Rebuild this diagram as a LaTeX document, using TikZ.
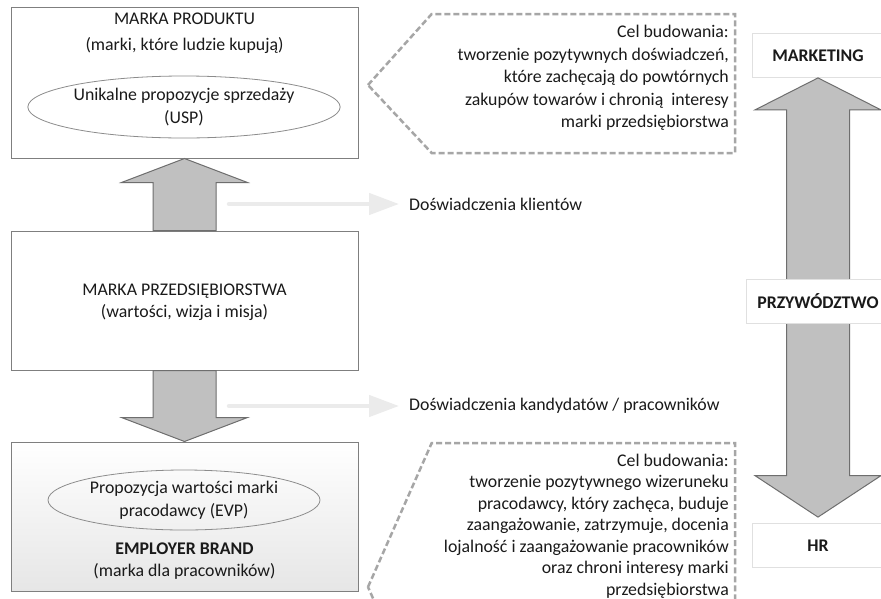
\documentclass[tikz,border=0pt]{standalone}
\usepackage{fontspec}
\setmainfont{Carlito}
\usetikzlibrary{arrows.meta,calc,shapes.geometric}

\definecolor{ink}{HTML}{1A1A1A}
\definecolor{boxline}{HTML}{7F7F7F}
\definecolor{ovalline}{HTML}{8C8C8C}
\definecolor{arrowfill}{HTML}{C0C0C0}
\definecolor{arrowline}{HTML}{6E6E6E}
\definecolor{flowgray}{HTML}{EBEBEB}
\definecolor{dashgray}{HTML}{A6A6A6}
\definecolor{rolegray}{HTML}{E0E0E0}
\definecolor{shadebot}{HTML}{E6E6E6}

\begin{document}
\begin{tikzpicture}[x=1pt,y=-1pt,
  txt/.style={font=\fontsize{17.8}{22.5}\selectfont, text=ink, inner sep=0pt, align=center},
  boldtxt/.style={txt, font=\fontsize{17.8}{22.5}\selectfont\bfseries},
  brandbox/.style={draw=boxline, line width=1pt, inner sep=0pt, minimum width=347pt},
  valueoval/.style={txt, ellipse, draw=ovalline, line width=0.8pt, minimum width=272pt, minimum height=60pt},
  blockarrow/.style={fill=arrowfill, draw=arrowline, line width=1pt, line join=miter},
  flowarrow/.style={draw=flowgray, line width=4.5pt, line cap=round, -{Triangle[length=30pt,width=21pt]}, shorten >=10pt},
  goalframe/.style={draw=dashgray, line width=2.5pt, dash pattern=on 6pt off 3pt},
  rolebox/.style={boldtxt, draw=rolegray, fill=white, line width=0.8pt, minimum height=44pt},
]
\useasboundingbox (0,0) rectangle (881,598);
\clip (0,0) rectangle (881,598);
\fill[white] (0,0) rectangle (881,598);

% brand boxes on the left
\node[brandbox, minimum height=151pt] (prod) at (184.5,82.5) {};
\node[brandbox, minimum height=139pt] (mid) at (184.5,300.5) {};
\node[brandbox, minimum height=149pt, top color=white, bottom color=shadebot] (emp) at (184.5,516.5) {};

% texts of the brand boxes
\node[txt, font=\fontsize{17.8}{26}\selectfont] (prodtitle) at (184.5,33) {MARKA PRODUKTU\\(marki, które ludzie kupują)};
\node[valueoval, minimum height=62pt] (usp) at (184,107) {Unikalne propozycje sprzedaży\\(USP)};
\node[txt] (midtitle) at (184.5,302) {MARKA PRZEDSIĘBIORSTWA\\(wartości, wizja i misja)};
\node[valueoval] (evp) at (184,500) {Propozycja wartości marki\\pracodawcy (EVP)};
\node[txt] (emptitle) at (184.5,561) {\textbf{EMPLOYER BRAND}\\(marka dla pracowników)};

% block arrows between the brand boxes
\draw[blockarrow] (prod.south) -- ($(prod.south)+(63,24)$) -- ($(prod.south)+(31.5,24)$)
  -- ($(mid.north)+(31.5,0)$) -- ($(mid.north)+(-31.5,0)$)
  -- ($(prod.south)+(-31.5,24)$) -- ($(prod.south)+(-63,24)$) -- cycle;
\draw[blockarrow] (emp.north) -- ($(emp.north)+(63,-24)$) -- ($(emp.north)+(31.5,-24)$)
  -- ($(mid.south)+(31.5,0)$) -- ($(mid.south)+(-31.5,0)$)
  -- ($(emp.north)+(-31.5,-24)$) -- ($(emp.north)+(-63,-24)$) -- cycle;

% experience arrows
\coordinate (kstart) at (229,204);
\node[txt, anchor=west] (klienci) at (409,204) {Doświadczenia klientów};
\draw[flowarrow] (kstart) -- (klienci.west);
\coordinate (pstart) at (229,406);
\node[txt, anchor=west] (pracownicy) at (409,406) {Doświadczenia kandydatów / pracowników};
\draw[flowarrow] (pstart) -- (pracownicy.west);

% goal callouts
\draw[goalframe] (368,85) -- (431.7,14) -- (735,14) -- (735,153) -- (431.7,153) -- cycle;
\node[txt, align=right, anchor=east] (goaltop) at (729,78)
  {Cel budowania:\\tworzenie pozytywnych doświadczeń,\\które zachęcają do powtórnych\\zakupów towarów i chronią\ \ interesy\\marki przedsiębiorstwa};
\draw[goalframe] (368,587) -- (431.7,443) -- (735,443) -- (735,731) -- (431.7,731) -- cycle;
\node[txt, align=right, anchor=east, font=\fontsize{17.8}{21.5}\selectfont] (goalbot) at (729,526)
  {Cel budowania:\\tworzenie pozytywnego wizeruneku\\pracodawcy, który zachęca, buduje\\zaangażowanie, zatrzymuje, docenia\\lojalność i zaangażowanie pracowników\\oraz chroni interesy marki\\przedsiębiorstwa};

% leadership axis on the right
\node[rolebox, minimum width=132pt] (mkt) at (818,55.5) {MARKETING};
\node[rolebox, minimum width=132pt] (hr) at (818,545.5) {HR};
\coordinate (axtop) at (mkt.south);
\coordinate (axbot) at ($(hr.north)+(0,-6)$);
\draw[blockarrow] (axtop) -- ($(axtop)+(63,32)$) -- ($(axtop)+(31.5,32)$)
  -- ($(axbot)+(31.5,-41.5)$) -- ($(axbot)+(63,-41.5)$) -- (axbot)
  -- ($(axbot)+(-63,-41.5)$) -- ($(axbot)+(-31.5,-41.5)$)
  -- ($(axtop)+(-31.5,32)$) -- ($(axtop)+(-63,32)$) -- cycle;
\node[rolebox, minimum width=144pt] (lead) at (818,301) {PRZYWÓDZTWO};
\end{tikzpicture}
\end{document}
